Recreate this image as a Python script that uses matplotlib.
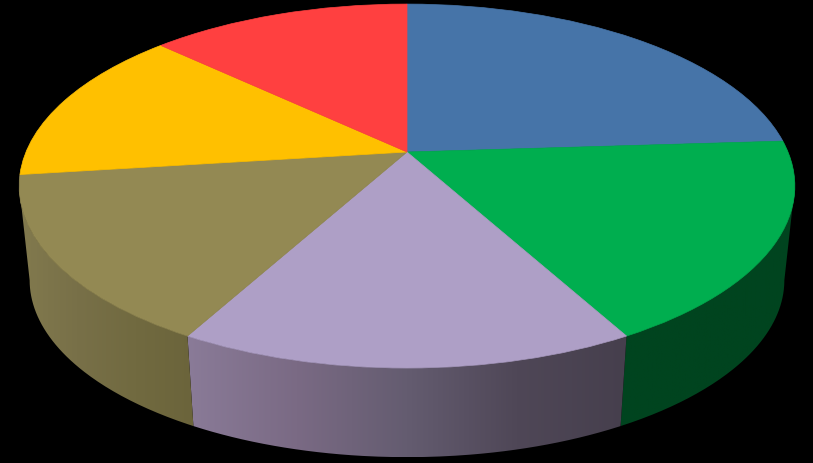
import numpy as np
import matplotlib
matplotlib.use("Agg")
import matplotlib.pyplot as plt
from matplotlib.path import Path
from matplotlib.patches import PathPatch
from matplotlib.transforms import Transform
from matplotlib.colors import LinearSegmentedColormap

# Slices, clockwise from 12 o'clock
values = [24, 18, 16, 15, 14, 13]
top_colors = ["#4674A8", "#00AE4F", "#AE9FC6", "#938953", "#FFC000", "#FF4040"]
# Shading of the visible rim walls, left to right (slice index -> colour stops)
wall_colors = {
    1: ["#00441F", "#00441F"],
    2: ["#8A7B98", "#7A6A84", "#645C70", "#4F4757", "#463F4D"],
    3: ["#827A4E", "#787048", "#716A40", "#6B643B"],
}

W, H = 813, 463
P = 0.187          # perspective strength
AX, BY = 381.0, 175.6
CX, CY = 407.0, 152.0
LOW_S, LOW_CY = 0.973, 247.0


class Perspective(Transform):
    input_dims = output_dims = 2

    def __init__(self, scale=1.0, cy=CY):
        super().__init__()
        self.scale, self.cy = scale, cy

    def transform_non_affine(self, xy):
        xy = np.asarray(xy, float)
        d = 1 + P * xy[:, 1]
        return np.column_stack((CX + self.scale * AX * xy[:, 0] / d,
                                self.cy - self.scale * BY * xy[:, 1] / d))

    transform = transform_non_affine


top = Perspective()
low = Perspective(LOW_S, LOW_CY)

fig = plt.figure(figsize=(W / 100, H / 100), dpi=100, facecolor="black")
ax = fig.add_axes([0, 0, 1, 1], facecolor="black")

wedges, _ = ax.pie(values, colors=top_colors, startangle=90, counterclock=False,
                   wedgeprops=dict(linewidth=0))
for w, c in zip(wedges, top_colors):
    w.set_transform(top + ax.transData)
    w.set_edgecolor(c)
    w.set_linewidth(0.5)
    w.set_zorder(3)

# Rim walls: swept between top rim and lower rim, limited to the visible front
edges = np.concatenate(([0], np.cumsum(values))) / sum(values) * 360.0
tangent = np.degrees(np.arcsin(P))
for i, stops in wall_colors.items():
    a0 = max(edges[i], 90 + tangent)
    a1 = min(edges[i + 1], 270 - tangent)
    clockwise = np.radians(90 - np.linspace(a0, a1, 120))
    unit = np.column_stack((np.cos(clockwise), np.sin(clockwise)))
    poly = np.vstack((top.transform(unit), low.transform(unit)[::-1]))
    cmap = LinearSegmentedColormap.from_list(f"wall{i}", stops)
    x0, x1 = poly[:, 0].min(), poly[:, 0].max()
    im = ax.imshow(np.linspace(0, 1, 256)[None, :], cmap=cmap, aspect="auto",
                   extent=(x0, x1, poly[:, 1].max(), poly[:, 1].min()), zorder=2)
    clip = PathPatch(Path(poly), transform=ax.transData, fc="none", lw=0)
    ax.add_patch(clip)
    im.set_clip_path(clip)

ax.set_aspect("auto")
ax.set_xlim(0, W)
ax.set_ylim(H, 0)
ax.set_axis_off()
fig.savefig("out.png", dpi=100, facecolor="black")
